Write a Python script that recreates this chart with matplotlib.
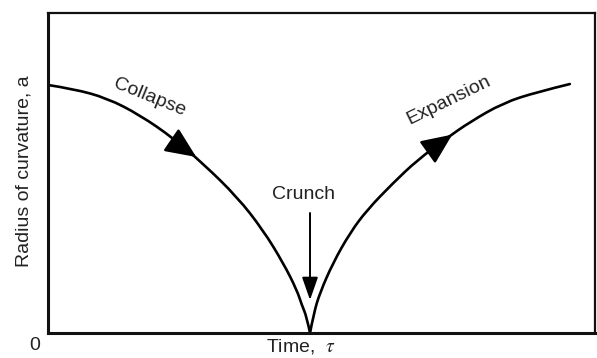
import matplotlib.pyplot as plt
from matplotlib.path import Path
from matplotlib.patches import PathPatch

plt.rcParams['font.family'] = ['Liberation Sans', 'DejaVu Sans']
plt.rcParams['mathtext.fontset'] = 'stix'

# collapse branch: radius of curvature falls to zero at the crunch
tau_collapse = [0.0, 0.046, 0.108, 0.168, 0.229, 0.283, 0.346, 0.393, 0.430, 0.455, 0.464, 0.473, 0.479]
a_collapse = [0.775, 0.763, 0.734, 0.681, 0.609, 0.530, 0.425, 0.322, 0.219, 0.134, 0.0875, 0.050, 0.0]

# expansion branch after the bounce
tau_expand = [0.479, 0.486, 0.497, 0.521, 0.552, 0.583, 0.631, 0.675, 0.729, 0.771, 0.832, 0.894, 0.954]
a_expand = [0.0, 0.0625, 0.125, 0.219, 0.3125, 0.384, 0.469, 0.540, 0.609, 0.659, 0.719, 0.753, 0.778]

# arrow heads along the curve (back point, tip)
collapse_arrow = [(0.241, 0.585), (0.271, 0.550)]
expand_arrow = [(0.698, 0.570), (0.739, 0.620)]
crunch_arrow = [(0.479, 0.375), (0.479, 0.103)]


def smooth_path(xs, ys):
    # quadratic bezier through midpoints, the read points act as control points
    pts = list(zip(xs, ys))
    verts = [pts[0]]
    codes = [Path.MOVETO]
    for i in range(1, len(pts) - 1):
        mid = ((pts[i][0] + pts[i + 1][0]) / 2, (pts[i][1] + pts[i + 1][1]) / 2)
        if i == len(pts) - 2:
            mid = pts[-1]
        verts += [pts[i], mid]
        codes += [Path.CURVE3, Path.CURVE3]
    return Path(verts, codes)


fig = plt.figure(figsize=(5.97, 3.58), dpi=100)
ax = fig.add_axes([48 / 597, 25 / 358, 547 / 597, 320 / 358])

for xs, ys in [(tau_collapse, a_collapse), (tau_expand, a_expand)]:
    ax.add_patch(PathPatch(smooth_path(xs, ys), facecolor='none', edgecolor='black',
                           lw=1.9, capstyle='round', joinstyle='round'))

for back, tip in [collapse_arrow, expand_arrow]:
    ax.annotate('', xy=tip, xytext=back,
                arrowprops=dict(arrowstyle='-|>,head_length=0.95,head_width=0.42',
                                mutation_scale=20, color='black', lw=1.8,
                                shrinkA=0, shrinkB=0))

ax.annotate('', xy=crunch_arrow[1], xytext=crunch_arrow[0],
            arrowprops=dict(arrowstyle='-|>,head_length=1.0,head_width=0.35',
                            mutation_scale=14, color='black', lw=1.4,
                            shrinkA=0, shrinkB=0))

ax.text(0.186, 0.7375, 'Collapse', rotation=-22, ha='center', va='center',
        fontsize=14, color='#222222', rotation_mode='anchor')
ax.text(0.733, 0.728, 'Expansion', rotation=26, ha='center', va='center',
        fontsize=14, color='#222222', rotation_mode='anchor')
ax.text(0.468, 0.434, 'Crunch', ha='center', va='center', fontsize=14, color='#222222')

ax.set_xlim(0, 1)
ax.set_ylim(0, 1)
ax.set_xticks([])
ax.set_yticks([])
for side in ['left', 'bottom']:
    ax.spines[side].set_linewidth(2.2)
for side in ['top', 'right']:
    ax.spines[side].set_linewidth(1.6)
for s in ax.spines.values():
    s.set_color('#111111')

fig.text(35 / 597, 1 - 346 / 358, '0', ha='center', va='center', fontsize=14, color='#222222')
fig.text(301 / 597, 1 - 347 / 358, 'Time,  $\\tau$', ha='center', va='center',
         fontsize=14, color='#222222')
fig.text(24 / 597, 1 - 171 / 358, 'Radius of curvature, a', rotation=90,
         ha='center', va='center', fontsize=14, color='#222222')

fig.savefig('out.png', dpi=100)
